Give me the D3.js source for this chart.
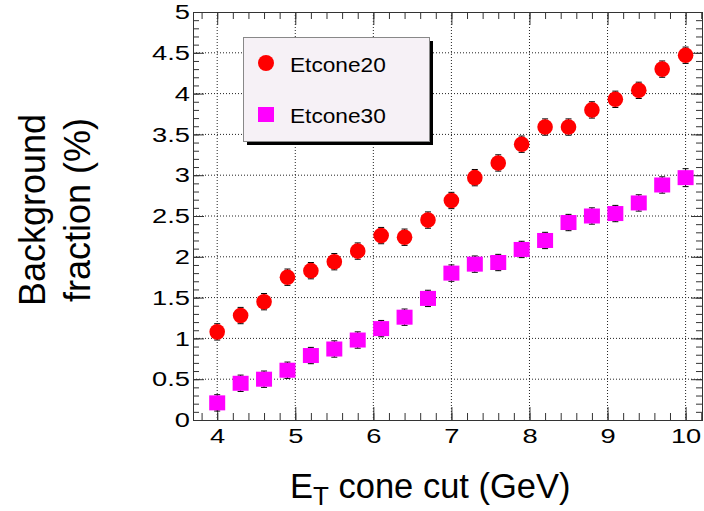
<!DOCTYPE html>
<html>
<head>
<meta charset="utf-8">
<script src="https://cdn.jsdelivr.net/npm/d3@7"></script>
<style>
  body { margin: 0; background: #fff; }
  svg { display: block; }
  text { font-family: "Liberation Sans", Arial, sans-serif; fill: #000; }
</style>
</head>
<body>
<script>
// cone cut values (GeV)
var cuts = [4.0, 4.3, 4.6, 4.9, 5.2, 5.5, 5.8, 6.1, 6.4, 6.7, 7.0,
            7.3, 7.6, 7.9, 8.2, 8.5, 8.8, 9.1, 9.4, 9.7, 10.0];
var etcone20 = [1.08, 1.28, 1.45, 1.75, 1.83, 1.94, 2.07, 2.26, 2.24, 2.45, 2.69,
                2.97, 3.15, 3.38, 3.59, 3.59, 3.80, 3.93, 4.04, 4.30, 4.47];
var etcone20Err = [0.10, 0.10, 0.10, 0.10, 0.10, 0.10, 0.10, 0.10, 0.10, 0.10, 0.10,
                   0.10, 0.10, 0.10, 0.10, 0.10, 0.10, 0.10, 0.10, 0.10, 0.10];
var etcone30 = [0.21, 0.45, 0.50, 0.61, 0.79, 0.87, 0.98, 1.12, 1.26, 1.49, 1.80,
                1.91, 1.93, 2.09, 2.20, 2.42, 2.50, 2.53, 2.66, 2.88, 2.97];
var etcone30Err = [0.10, 0.10, 0.10, 0.10, 0.10, 0.10, 0.10, 0.10, 0.10, 0.10, 0.10,
                   0.10, 0.10, 0.10, 0.10, 0.10, 0.10, 0.10, 0.10, 0.10, 0.11];

var xTicks = [4, 5, 6, 7, 8, 9, 10];
var yTicks = [0, 0.5, 1, 1.5, 2, 2.5, 3, 3.5, 4, 4.5, 5];
var yTickLabels = ["0", "0.5", "1", "1.5", "2", "2.5", "3", "3.5", "4", "4.5", "5"];

var margin = {top: 12, right: 2, bottom: 91, left: 193};
var width = 704 - margin.left - margin.right;
var height = 511 - margin.top - margin.bottom;

var svg = d3.select("body").append("svg")
    .attr("width", 704)
    .attr("height", 511);

var g = svg.append("g")
    .attr("transform", "translate(" + margin.left + "," + margin.top + ")");

var x = d3.scaleLinear().domain([3.69, 10.21]).range([0, width]);
var y = d3.scaleLinear().domain([0, 5]).range([height, 0]);

// grid
g.selectAll(".vgrid").data(xTicks).enter().append("line")
    .attr("x1", function(d) { return x(d); })
    .attr("x2", function(d) { return x(d); })
    .attr("y1", 0).attr("y2", height)
    .attr("stroke", "#222").attr("stroke-dasharray", "1,2");
g.selectAll(".hgrid").data(yTicks.slice(1, -1)).enter().append("line")
    .attr("x1", 0).attr("x2", width)
    .attr("y1", function(d) { return y(d); })
    .attr("y2", function(d) { return y(d); })
    .attr("stroke", "#222").attr("stroke-dasharray", "1,2");

// axes, ticks pointing inside like ROOT
var xMinor = d3.range(3.8, 10.21, 0.2);
var yMinor = d3.range(0, 5.001, 0.1);

function axisGroup(axis, tx, ty) {
    var a = g.append("g")
        .attr("transform", "translate(" + tx + "," + ty + ")")
        .attr("font-family", null)
        .call(axis);
    a.selectAll("line").attr("stroke", "#333");
    a.select(".domain").attr("stroke", "#333");
    return a;
}

// minor ticks
axisGroup(d3.axisBottom(x).tickValues(xMinor).tickSize(-7).tickFormat(""), 0, height);
axisGroup(d3.axisTop(x).tickValues(xMinor).tickSize(-7).tickFormat(""), 0, 0);
axisGroup(d3.axisLeft(y).tickValues(yMinor).tickSize(-6).tickFormat(""), 0, 0);
axisGroup(d3.axisRight(y).tickValues(yMinor).tickSize(-6).tickFormat(""), width, 0);

// major ticks + labels
var bottomG = axisGroup(d3.axisBottom(x).tickValues(xTicks).tickSize(-13).tickPadding(8)
    .tickFormat(d3.format("d")), 0, height);
axisGroup(d3.axisTop(x).tickValues(xTicks).tickSize(-13).tickFormat(""), 0, 0);
var leftG = axisGroup(d3.axisLeft(y).tickValues(yTicks).tickSize(-11).tickPadding(3)
    .tickFormat(function(d, i) { return yTickLabels[i]; }), 0, 0);
axisGroup(d3.axisRight(y).tickValues(yTicks).tickSize(-11).tickFormat(""), width, 0);

bottomG.selectAll(".tick text").attr("font-size", "21px")
    .attr("transform", "scale(1.3,1)");
leftG.selectAll(".tick text").attr("font-size", "21px")
    .attr("x", -3 / 1.3)
    .attr("transform", "scale(1.3,1)");

// error bars + markers
function drawSeries(vals, errs, color, shape) {
    var pts = cuts.map(function(c, i) { return {x: c, y: vals[i], e: errs[i]}; });
    var s = g.append("g");
    var eb = s.selectAll("g").data(pts).enter().append("g");
    eb.append("line")
        .attr("x1", function(d) { return x(d.x); })
        .attr("x2", function(d) { return x(d.x); })
        .attr("y1", function(d) { return y(d.y - d.e); })
        .attr("y2", function(d) { return y(d.y + d.e); })
        .attr("stroke", "#000");
    [-1, 1].forEach(function(sgn) {
        eb.append("line")
            .attr("x1", function(d) { return x(d.x) - 3; })
            .attr("x2", function(d) { return x(d.x) + 3; })
            .attr("y1", function(d) { return y(d.y + sgn * d.e); })
            .attr("y2", function(d) { return y(d.y + sgn * d.e); })
            .attr("stroke", "#000");
    });
    if (shape === "circle") {
        s.selectAll("circle").data(pts).enter().append("circle")
            .attr("cx", function(d) { return x(d.x); })
            .attr("cy", function(d) { return y(d.y); })
            .attr("r", 7.8)
            .attr("fill", color);
    } else {
        s.selectAll("rect").data(pts).enter().append("rect")
            .attr("x", function(d) { return x(d.x) - 8; })
            .attr("y", function(d) { return y(d.y) - 7.5; })
            .attr("width", 16).attr("height", 15)
            .attr("fill", color);
    }
}
drawSeries(etcone20, etcone20Err, "#ff0000", "circle");
drawSeries(etcone30, etcone30Err, "#ff00ff", "square");

// legend
var leg = svg.append("g").attr("transform", "translate(243,37)");
leg.append("rect").attr("x", 4).attr("y", 4).attr("width", 186).attr("height", 104)
    .attr("fill", "#000");
leg.append("rect").attr("x", 0.5).attr("y", 0.5).attr("width", 186).attr("height", 104)
    .attr("fill", "#f6f1f6").attr("stroke", "#888");
leg.append("circle").attr("cx", 23).attr("cy", 26).attr("r", 8).attr("fill", "#ff0000");
leg.append("rect").attr("x", 15).attr("y", 70).attr("width", 16).attr("height", 15)
    .attr("fill", "#ff00ff");
leg.append("text").attr("transform", "translate(47,35) scale(1.08,1)")
    .attr("font-size", "21px").text("Etcone20");
leg.append("text").attr("transform", "translate(47,86) scale(1.08,1)")
    .attr("font-size", "21px").text("Etcone30");

// axis titles
var xt = svg.append("text").attr("x", 290).attr("y", 498).attr("font-size", "34.5px");
xt.append("tspan").text("E");
xt.append("tspan").attr("font-size", "26px").attr("dy", 7).text("T");
xt.append("tspan").attr("dy", -7).text(" cone cut (GeV)");

var yt = svg.append("text").attr("transform", "translate(45,210) rotate(-90)")
    .attr("text-anchor", "middle").attr("font-size", "36px");
yt.append("tspan").attr("x", 0).attr("y", 0).text("Background");
yt.append("tspan").attr("x", 0).attr("y", 45).text("fraction (%)");
</script>
</body>
</html>
